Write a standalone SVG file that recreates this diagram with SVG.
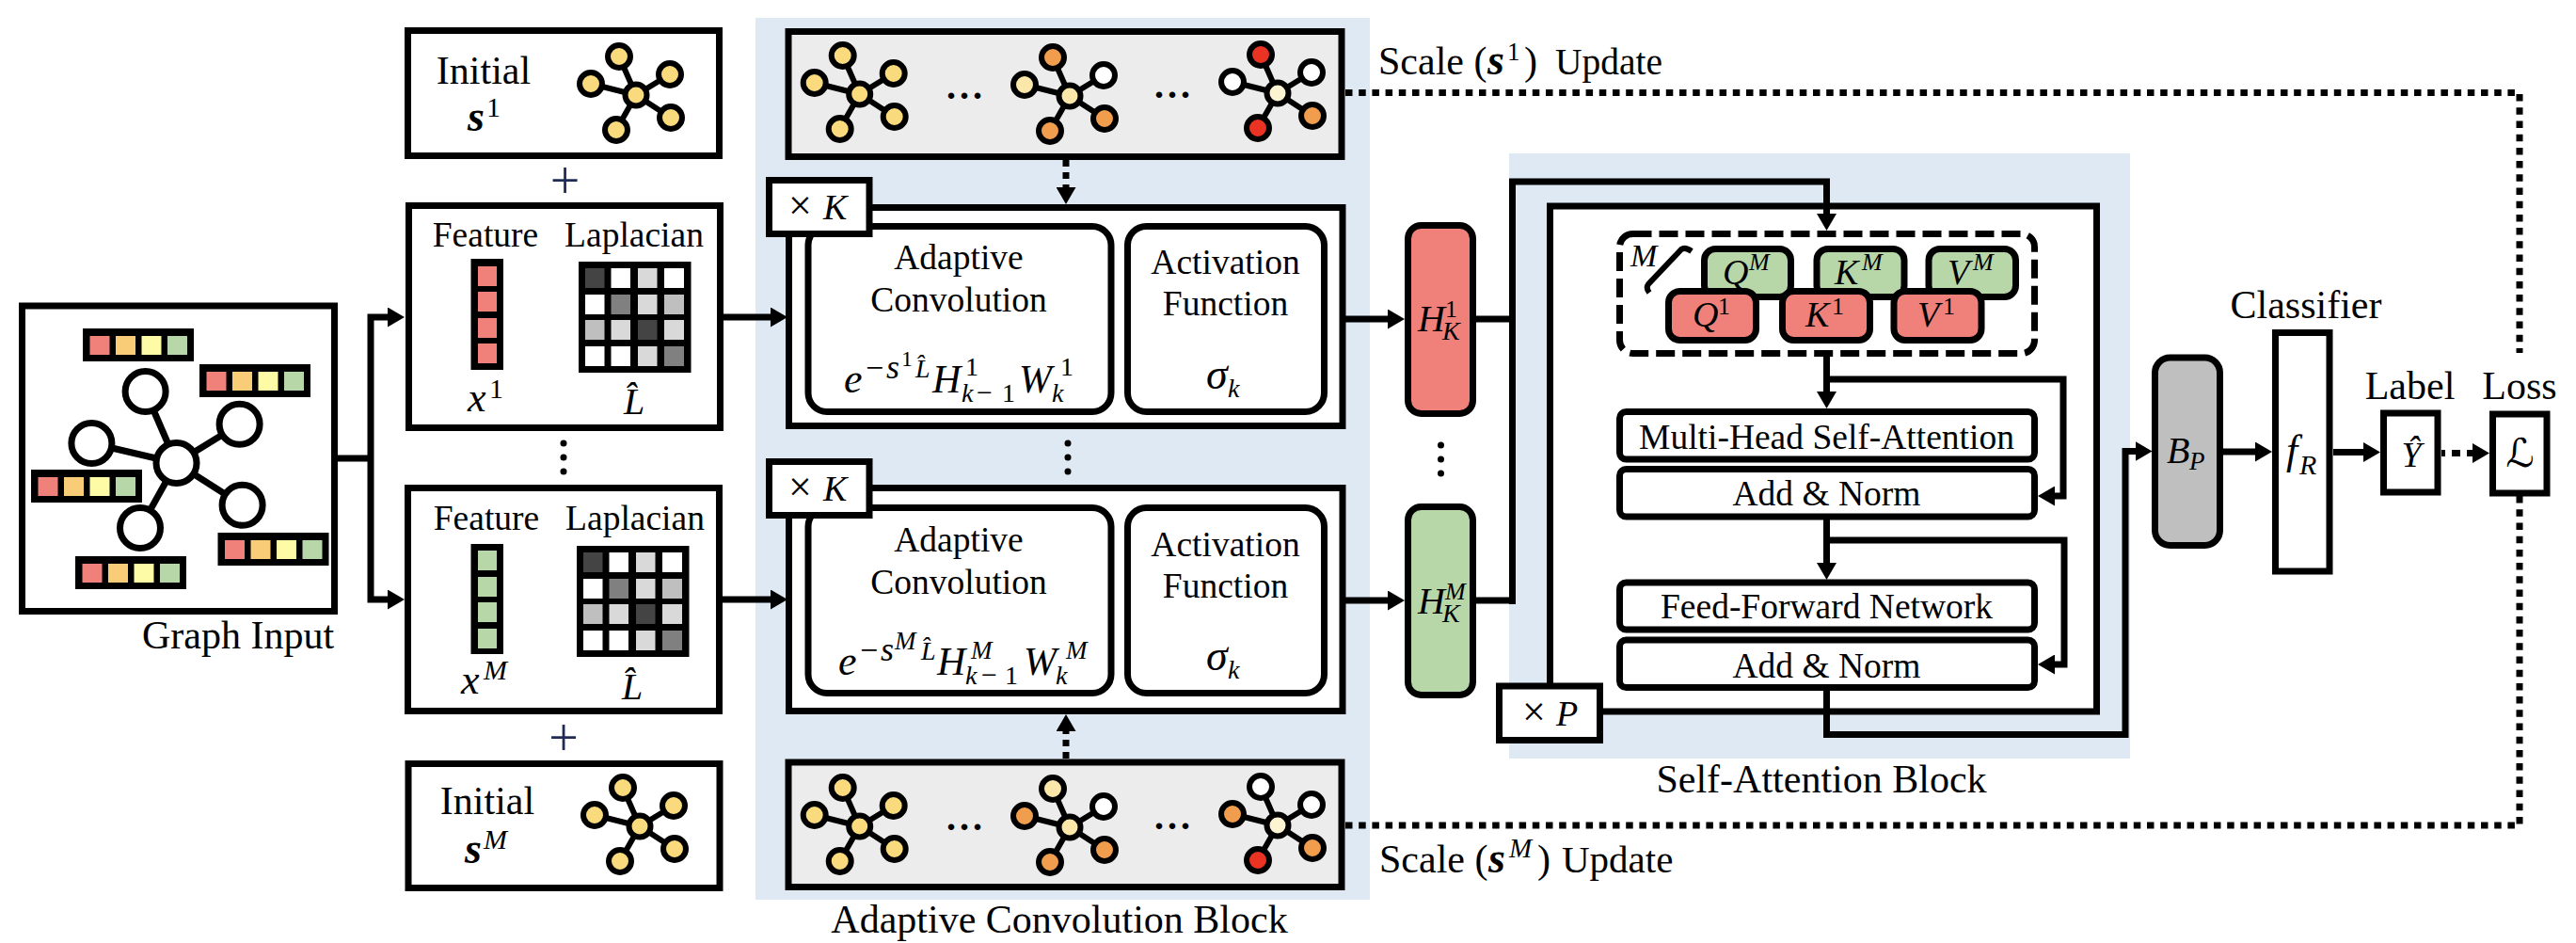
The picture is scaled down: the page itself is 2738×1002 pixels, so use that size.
<svg xmlns="http://www.w3.org/2000/svg" width="2738" height="1002" viewBox="0 0 2738 1002">
<style>
text{font-family:"Liberation Serif","Times New Roman",serif;fill:#000}
.l{font-size:42px}.c{text-anchor:middle}.s{font-size:37.5px}.i{font-style:italic}.bi{font-style:italic;font-weight:bold}
.b{fill:#fff;stroke:#000;stroke-width:7}.g{fill:#ececec;stroke:#000;stroke-width:7}
.ln{fill:none;stroke:#000;stroke-width:7;stroke-linejoin:miter}
.bg{fill:#dfe9f4}
.cell{stroke:none}.pk{fill:#ef807a}.og{fill:#f9cc78}.yl{fill:#fdfba6}.gr{fill:#b7d7a8}
.n{stroke:#000;stroke-width:6}.y1{fill:#f9da7c}.y2{fill:#fbe7a9}.y3{fill:#fcf3d2}.o{fill:#f09e4e}.r{fill:#ea3323}.w{fill:#fff}
.d{fill:#000}
.m{font-style:italic;font-size:40px}
.pl{font-size:56px;fill:#1f2a55}
</style>
<defs>
<marker id="ah" markerUnits="userSpaceOnUse" markerWidth="18" markerHeight="21" refX="8" refY="10.5" orient="auto"><path d="M0 0L18 10.5L0 21z" fill="#000"/></marker>
<g id="spokes"><path d="M0 0L-18-41M0 0L36-22M0 0L-48-12M0 0L37 24M0 0L-21 37" stroke="#000" stroke-width="6" fill="none"/></g>
<g id="hbar"><rect width="118" height="35" fill="#000"/>
<rect class="cell pk" x="7.500" y="8" width="21" height="20"/><rect class="cell og" x="35" y="8" width="21" height="20"/><rect class="cell yl" x="62.500" y="8" width="21" height="20"/><rect class="cell gr" x="90" y="8" width="21" height="20"/></g>
<g id="matrix"><rect width="119.500" height="118" fill="#000"/>
<rect x="7" y="7" width="20.500" height="21" fill="#444"/><rect x="34.500" y="7" width="20.500" height="21" fill="#fff"/><rect x="63" y="7" width="20.500" height="21" fill="#d9d9d9"/><rect x="91" y="7" width="21" height="21" fill="#fff"/>
<rect x="7" y="35" width="20.500" height="21" fill="#fff"/><rect x="34.500" y="35" width="20.500" height="21" fill="#808080"/><rect x="63" y="35" width="20.500" height="21" fill="#d9d9d9"/><rect x="91" y="35" width="21" height="21" fill="#bfbfbf"/>
<rect x="7" y="62" width="20.500" height="21" fill="#bfbfbf"/><rect x="34.500" y="62" width="20.500" height="21" fill="#d9d9d9"/><rect x="63" y="62" width="20.500" height="21" fill="#444"/><rect x="91" y="62" width="21" height="21" fill="#d9d9d9"/>
<rect x="7" y="90" width="20.500" height="21" fill="#fff"/><rect x="34.500" y="90" width="20.500" height="21" fill="#fff"/><rect x="63" y="90" width="20.500" height="21" fill="#d9d9d9"/><rect x="91" y="90" width="21" height="21" fill="#808080"/></g>
</defs>
<rect width="2738" height="1002" fill="#fff"/>
<g id="backgrounds">
<rect class="bg" x="803" y="19" width="653" height="937"/>
<rect class="bg" x="1604" y="163" width="660" height="643"/>
</g>
<g id="sa-outer"><rect class="b" x="1647.500" y="219" width="581" height="537"/></g>
<g id="connectors">
<path class="ln" d="M359 487H394M394 487V337H420" marker-end="url(#ah)"/>
<path class="ln" d="M394 487V637H420" marker-end="url(#ah)"/>
<path class="ln" d="M768 337H827" marker-end="url(#ah)"/>
<path class="ln" d="M768 637H827" marker-end="url(#ah)"/>
<path class="ln" d="M1430 339H1483" marker-end="url(#ah)"/>
<path class="ln" d="M1430 638H1483" marker-end="url(#ah)"/>
<path class="ln" d="M1569 339H1607.500M1569 638H1607.500M1607.500 642V193H1941.500V235" marker-end="url(#ah)"/>
<path class="ln" d="M1941.500 379V424" marker-end="url(#ah)"/>
<path class="ln" d="M1941.500 403H2193V527H2176" marker-end="url(#ah)"/>
<path class="ln" d="M1941.500 552V606" marker-end="url(#ah)"/>
<path class="ln" d="M1941.500 574H2194V706H2176" marker-end="url(#ah)"/>
<path class="ln" d="M1941.500 734V780.500H2259V479.500H2277.500" marker-end="url(#ah)"/>
<path class="ln" d="M2363 480H2405" marker-end="url(#ah)"/>
<path class="ln" d="M2480 480.500H2520" marker-end="url(#ah)"/>
<path class="ln" d="M2595 481.500H2636" stroke-dasharray="9 7" stroke-dashoffset="5" marker-end="url(#ah)"/>
<path class="ln" d="M1133 170V207" stroke-dasharray="7 6" marker-end="url(#ah)"/>
<path class="ln" d="M1133 806V769" stroke-dasharray="7 6" marker-end="url(#ah)"/>
<path class="ln" d="M1430 98.500H2678V375" stroke-dasharray="7.500 6.700"/>
<path class="ln" d="M1430 877H2678V527" stroke-dasharray="7.500 6.700"/>
</g>
<g id="graph-input">
<rect class="b" x="23.500" y="325" width="332" height="324.500"/>
<g class="ln"><path d="M187.500 492L154.600 416M187.500 492L254.600 450.700M187.500 492L97.400 471M187.500 492L257.600 536.700M187.500 492L149 561"/></g>
<g fill="#fff" stroke="#000" stroke-width="7"><circle cx="154.600" cy="416" r="21.500"/><circle cx="254.600" cy="450.700" r="21.500"/><circle cx="97.400" cy="471" r="21.500"/><circle cx="257.600" cy="536.700" r="21.500"/><circle cx="149" cy="561" r="21.500"/><circle cx="187.500" cy="492" r="21.500"/></g>
<use href="#hbar" x="88" y="349"/><use href="#hbar" x="212" y="387"/><use href="#hbar" x="33" y="499"/><use href="#hbar" x="231.500" y="566"/><use href="#hbar" x="80" y="591"/>
<text class="l" x="151" y="689">Graph Input</text>
</g>
<g id="initial-1">
<rect class="b" x="433.500" y="32.500" width="331" height="133"/>
<text class="l c" x="514" y="89">Initial</text>
<text class="bi" x="497" y="139" font-size="46">s</text><text x="517" y="124" font-size="30">1</text>
<g transform="translate(676 101)"><use href="#spokes"/><circle class="n y1" cx="-18" cy="-41" r="12"/><circle class="n y1" cx="36" cy="-22" r="12"/><circle class="n y1" cx="-48" cy="-12" r="12"/><circle class="n y1" cx="37" cy="24" r="12"/><circle class="n y1" cx="-21" cy="37" r="12"/><circle class="n y1" r="11.500"/></g>
</g>
<text class="c pl" x="600.500" y="211">+</text>
<g id="feature-1">
<rect class="b" x="434.500" y="218.500" width="331" height="236"/>
<text class="s c" x="516" y="262">Feature</text><text class="s c" x="674" y="262">Laplacian</text>
<rect x="500.500" y="275" width="34.500" height="118" fill="#000"/>
<g class="pk"><rect x="508" y="283" width="20" height="21"/><rect x="508" y="310" width="20" height="21"/><rect x="508" y="338" width="20" height="21"/><rect x="508" y="365" width="20" height="21"/></g>
<use href="#matrix" x="615" y="278"/>
<text class="i" x="497" y="437" font-size="44">x</text><text x="520" y="423" font-size="30">1</text>
<text class="i" x="663" y="440" font-size="40">L̂</text>
</g>
<g id="vdots-1" class="d"><circle cx="599" cy="471" r="3.500"/><circle cx="599" cy="486" r="3.500"/><circle cx="599" cy="501" r="3.500"/></g>
<g id="feature-m">
<rect class="b" x="433.500" y="518.500" width="331" height="237"/>
<text class="s c" x="517" y="563">Feature</text><text class="s c" x="675" y="563">Laplacian</text>
<rect x="500.500" y="578" width="34.500" height="117" fill="#000"/>
<g class="gr"><rect x="508" y="585" width="20" height="21"/><rect x="508" y="613" width="20" height="21"/><rect x="508" y="640" width="20" height="21"/><rect x="508" y="668" width="20" height="21"/></g>
<use href="#matrix" x="613" y="580"/>
<text class="i" x="490" y="737" font-size="44">x</text><text class="i" x="514" y="722" font-size="30">M</text>
<text class="i" x="661" y="743" font-size="40">L̂</text>
</g>
<text class="c pl" x="599" y="802.500">+</text>
<g id="initial-m">
<rect class="b" x="434" y="811.500" width="331" height="132"/>
<text class="l c" x="518" y="865">Initial</text>
<text class="bi" x="494" y="917" font-size="46">s</text><text class="i" x="514" y="902" font-size="30">M</text>
<g transform="translate(680 878)"><use href="#spokes"/><circle class="n y1" cx="-18" cy="-41" r="12"/><circle class="n y1" cx="36" cy="-22" r="12"/><circle class="n y1" cx="-48" cy="-12" r="12"/><circle class="n y1" cx="37" cy="24" r="12"/><circle class="n y1" cx="-21" cy="37" r="12"/><circle class="n y1" r="11.500"/></g>
</g>
<g id="scale-top">
<rect class="g" x="838" y="33.500" width="588" height="133"/>
<g transform="translate(913.700 100)"><use href="#spokes"/><circle class="n y1" cx="-18" cy="-41" r="12"/><circle class="n y1" cx="36" cy="-22" r="12"/><circle class="n y1" cx="-48" cy="-12" r="12"/><circle class="n y1" cx="37" cy="24" r="12"/><circle class="n y1" cx="-21" cy="37" r="12"/><circle class="n y1" r="11.500"/></g>
<g transform="translate(1137 102)"><use href="#spokes"/><circle class="n o" cx="-18" cy="-41" r="12"/><circle class="n w" cx="36" cy="-22" r="12"/><circle class="n y2" cx="-48" cy="-12" r="12"/><circle class="n o" cx="37" cy="24" r="12"/><circle class="n o" cx="-21" cy="37" r="12"/><circle class="n y2" r="11.500"/></g>
<g transform="translate(1358 99)"><use href="#spokes"/><circle class="n r" cx="-18" cy="-41" r="12"/><circle class="n w" cx="36" cy="-22" r="12"/><circle class="n w" cx="-48" cy="-12" r="12"/><circle class="n o" cx="37" cy="24" r="12"/><circle class="n r" cx="-21" cy="37" r="12"/><circle class="n y3" r="11.500"/></g>
<text class="c" x="1027" y="105" font-size="40" letter-spacing="4" font-weight="bold">...</text>
<text class="c" x="1248" y="104" font-size="40" letter-spacing="4" font-weight="bold">...</text>
</g>
<g id="scale-bottom">
<rect class="g" x="838" y="810" width="588" height="132.500"/>
<g transform="translate(913.700 878)"><use href="#spokes"/><circle class="n y1" cx="-18" cy="-41" r="12"/><circle class="n y1" cx="36" cy="-22" r="12"/><circle class="n y1" cx="-48" cy="-12" r="12"/><circle class="n y1" cx="37" cy="24" r="12"/><circle class="n y1" cx="-21" cy="37" r="12"/><circle class="n y1" r="11.500"/></g>
<g transform="translate(1137 879)"><use href="#spokes"/><circle class="n y2" cx="-18" cy="-41" r="12"/><circle class="n w" cx="36" cy="-22" r="12"/><circle class="n o" cx="-48" cy="-12" r="12"/><circle class="n o" cx="37" cy="24" r="12"/><circle class="n o" cx="-21" cy="37" r="12"/><circle class="n y2" r="11.500"/></g>
<g transform="translate(1358 877)"><use href="#spokes"/><circle class="n w" cx="-18" cy="-41" r="12"/><circle class="n w" cx="36" cy="-22" r="12"/><circle class="n o" cx="-48" cy="-12" r="12"/><circle class="n o" cx="37" cy="24" r="12"/><circle class="n r" cx="-21" cy="37" r="12"/><circle class="n y3" r="11.500"/></g>
<text class="c" x="1027" y="882" font-size="40" letter-spacing="4" font-weight="bold">...</text>
<text class="c" x="1248" y="881" font-size="40" letter-spacing="4" font-weight="bold">...</text>
</g>
<g id="conv-1">
<rect class="b" x="838.500" y="220.500" width="588.500" height="232"/>
<rect class="b" x="859" y="240.500" width="322" height="197" rx="20"/>
<rect class="b" x="1198.500" y="240.500" width="209" height="197" rx="20"/>
<rect class="b" x="817.500" y="191.500" width="106.500" height="57"/>
<text x="838" y="233" font-size="44">×</text><text class="i" x="875" y="233" font-size="38">K</text>
<text class="s c" x="1019" y="286">Adaptive</text><text class="s c" x="1019" y="331">Convolution</text>
<text class="s c" x="1302.500" y="291">Activation</text><text class="s c" x="1302.500" y="335">Function</text>
<text class="i" x="897" y="417" font-size="44">e</text><text x="920" y="402" font-size="34">−</text><text class="i" x="942" y="402" font-size="36">s</text><text x="958" y="389" font-size="24">1</text><text class="i" x="973" y="401" font-size="28">L̂</text>
<text class="i" x="991" y="417" font-size="42">H</text><text x="1026" y="399" font-size="28">1</text><text class="i" x="1022" y="427" font-size="28">k</text><text x="1038" y="427" font-size="30">−</text><text x="1065" y="427" font-size="28">1</text>
<text class="i" x="1083" y="417" font-size="42">W</text><text x="1127" y="399" font-size="28">1</text><text class="i" x="1118" y="427" font-size="28">k</text>
<text class="i" x="1282" y="413" font-size="46">σ</text><text class="i" x="1305" y="422" font-size="28">k</text>
</g>
<g id="conv-m">
<rect class="b" x="838.500" y="518.500" width="588.500" height="237"/>
<rect class="b" x="859" y="539.500" width="322" height="197" rx="20"/>
<rect class="b" x="1198.500" y="539.500" width="209" height="197" rx="20"/>
<rect class="b" x="817.500" y="490.500" width="106.500" height="57"/>
<text x="838" y="532" font-size="44">×</text><text class="i" x="875" y="532" font-size="38">K</text>
<text class="s c" x="1019" y="586">Adaptive</text><text class="s c" x="1019" y="631">Convolution</text>
<text class="s c" x="1302.500" y="591">Activation</text><text class="s c" x="1302.500" y="635">Function</text>
<text class="i" x="891" y="717" font-size="44">e</text><text x="914" y="702" font-size="34">−</text><text class="i" x="936" y="702" font-size="36">s</text><text class="i" x="951" y="690" font-size="27">M</text><text class="i" x="979" y="701" font-size="28">L̂</text>
<text class="i" x="996" y="717" font-size="42">H</text><text class="i" x="1032" y="700" font-size="27">M</text><text class="i" x="1026" y="727" font-size="28">k</text><text x="1043" y="727" font-size="30">−</text><text x="1068" y="727" font-size="28">1</text>
<text class="i" x="1088" y="717" font-size="42">W</text><text class="i" x="1133" y="700" font-size="27">M</text><text class="i" x="1122" y="727" font-size="28">k</text>
<text class="i" x="1282" y="712" font-size="46">σ</text><text class="i" x="1305" y="721" font-size="28">k</text>
</g>
<g id="vdots-2" class="d"><circle cx="1135" cy="471" r="3.500"/><circle cx="1135" cy="486" r="3.500"/><circle cx="1135" cy="501" r="3.500"/></g>
<g id="h-1"><rect x="1496.500" y="239.500" width="69" height="200" rx="14" fill="#ef807a" stroke="#000" stroke-width="7"/>
<text class="i" x="1507" y="352" font-size="40">H</text><text x="1536" y="337" font-size="26">1</text><text class="i" x="1533" y="361" font-size="28">K</text></g>
<g id="vdots-3" class="d"><circle cx="1531.500" cy="473" r="3.500"/><circle cx="1531.500" cy="488" r="3.500"/><circle cx="1531.500" cy="503" r="3.500"/></g>
<g id="h-m"><rect x="1496.500" y="538.500" width="69" height="200" rx="14" fill="#b7d7a8" stroke="#000" stroke-width="7"/>
<text class="i" x="1507" y="652" font-size="40">H</text><text class="i" x="1536" y="637" font-size="26">M</text><text class="i" x="1533" y="661" font-size="28">K</text></g>
<text class="l c" x="1126" y="991">Adaptive Convolution Block</text>
<text class="l" x="1465" y="79">Scale (<tspan class="bi" x="1581" font-size="46">s</tspan><tspan x="1602" y="64" font-size="27">1</tspan><tspan x="1620" y="79">)</tspan><tspan x="1653" font-size="39.500">Update</tspan></text>
<text class="l" x="1466" y="926.500">Scale (<tspan class="bi" x="1582" font-size="46">s</tspan><tspan x="1604" y="910.500" font-size="29" class="i">M</tspan><tspan x="1634" y="926.500">)</tspan><tspan x="1660" font-size="41">Update</tspan></text>
<g id="keys">
<rect x="1721.500" y="248.500" width="441" height="127" rx="14" fill="none" stroke="#000" stroke-width="7" stroke-dasharray="20 8"/>
<text class="i" x="1733" y="283" font-size="34">M</text>
<path d="M1753 311Q1749 306 1752 302L1787 265Q1791 262 1798 267" fill="none" stroke="#000" stroke-width="6"/>
<rect x="1811.500" y="264.500" width="92" height="51" rx="12" fill="#b7d7a8" stroke="#000" stroke-width="7"/>
<rect x="1931" y="264.500" width="93" height="51" rx="12" fill="#b7d7a8" stroke="#000" stroke-width="7"/>
<rect x="2050" y="264.500" width="92.500" height="51" rx="12" fill="#b7d7a8" stroke="#000" stroke-width="7"/>
<text class="i" x="1831" y="302" font-size="38">Q</text><text class="i" x="1859" y="287" font-size="26">M</text>
<text class="i" x="1950" y="302" font-size="38">K</text><text class="i" x="1979" y="287" font-size="26">M</text>
<text class="i" x="2070" y="302" font-size="38">V</text><text class="i" x="2097" y="287" font-size="26">M</text>
<rect x="1773.500" y="309.500" width="93" height="52" rx="12" fill="#ef807a" stroke="#000" stroke-width="7"/>
<rect x="1894.500" y="309.500" width="93" height="52" rx="12" fill="#ef807a" stroke="#000" stroke-width="7"/>
<rect x="2013" y="309.500" width="93" height="52" rx="12" fill="#ef807a" stroke="#000" stroke-width="7"/>
<text class="i" x="1799" y="347" font-size="38">Q</text><text x="1826" y="334" font-size="26">1</text>
<text class="i" x="1919" y="347" font-size="38">K</text><text x="1947" y="334" font-size="26">1</text>
<text class="i" x="2038" y="347" font-size="38">V</text><text x="2065" y="334" font-size="26">1</text>
</g>
<g id="mhsa"><rect class="b" x="1721.500" y="437.500" width="441" height="50.500" rx="7"/><text class="s c" x="1941.500" y="477">Multi-Head Self-Attention</text></g>
<g id="norm-1"><rect class="b" x="1721.500" y="498.500" width="441" height="50.500" rx="7"/><text class="s c" x="1941.500" y="537">Add &amp; Norm</text></g>
<g id="ffn"><rect class="b" x="1721.500" y="619" width="441" height="50" rx="7"/><text class="s c" x="1941.500" y="657">Feed-Forward Network</text></g>
<g id="norm-2"><rect class="b" x="1721.500" y="680" width="441" height="50.500" rx="7"/><text class="s c" x="1941.500" y="720">Add &amp; Norm</text></g>
<g id="times-p"><rect class="b" x="1593.500" y="729" width="107" height="57.500"/><text x="1618" y="771" font-size="44">×</text><text class="i" x="1654" y="771" font-size="38">P</text></g>
<text class="l c" x="1936" y="842">Self-Attention Block</text>
<g id="bp"><rect x="2290.500" y="380" width="69" height="199.500" rx="16" fill="#bfbfbf" stroke="#000" stroke-width="7"/><text class="i" x="2303" y="492" font-size="40">B</text><text class="i" x="2327" y="499" font-size="27">P</text></g>
<g id="classifier"><rect class="b" x="2418.500" y="353.500" width="57.500" height="253.500"/><text class="i" x="2430" y="493" font-size="44">f</text><text class="i" x="2444" y="504" font-size="30">R</text><text class="l c" x="2451" y="338" font-size="43">Classifier</text></g>
<g id="label"><rect class="b" x="2533.500" y="439" width="57.500" height="84"/><text class="i c" x="2563" y="496" font-size="38">Ŷ</text><text class="l c" x="2561.500" y="424">Label</text></g>
<g id="loss"><rect class="b" x="2649.500" y="440" width="57.500" height="84"/><text class="c" x="2678.500" y="496" font-size="42" style="font-family:'DejaVu Serif','DejaVu Sans',serif">ℒ</text><text class="l c" x="2678" y="424">Loss</text></g>
</svg>
